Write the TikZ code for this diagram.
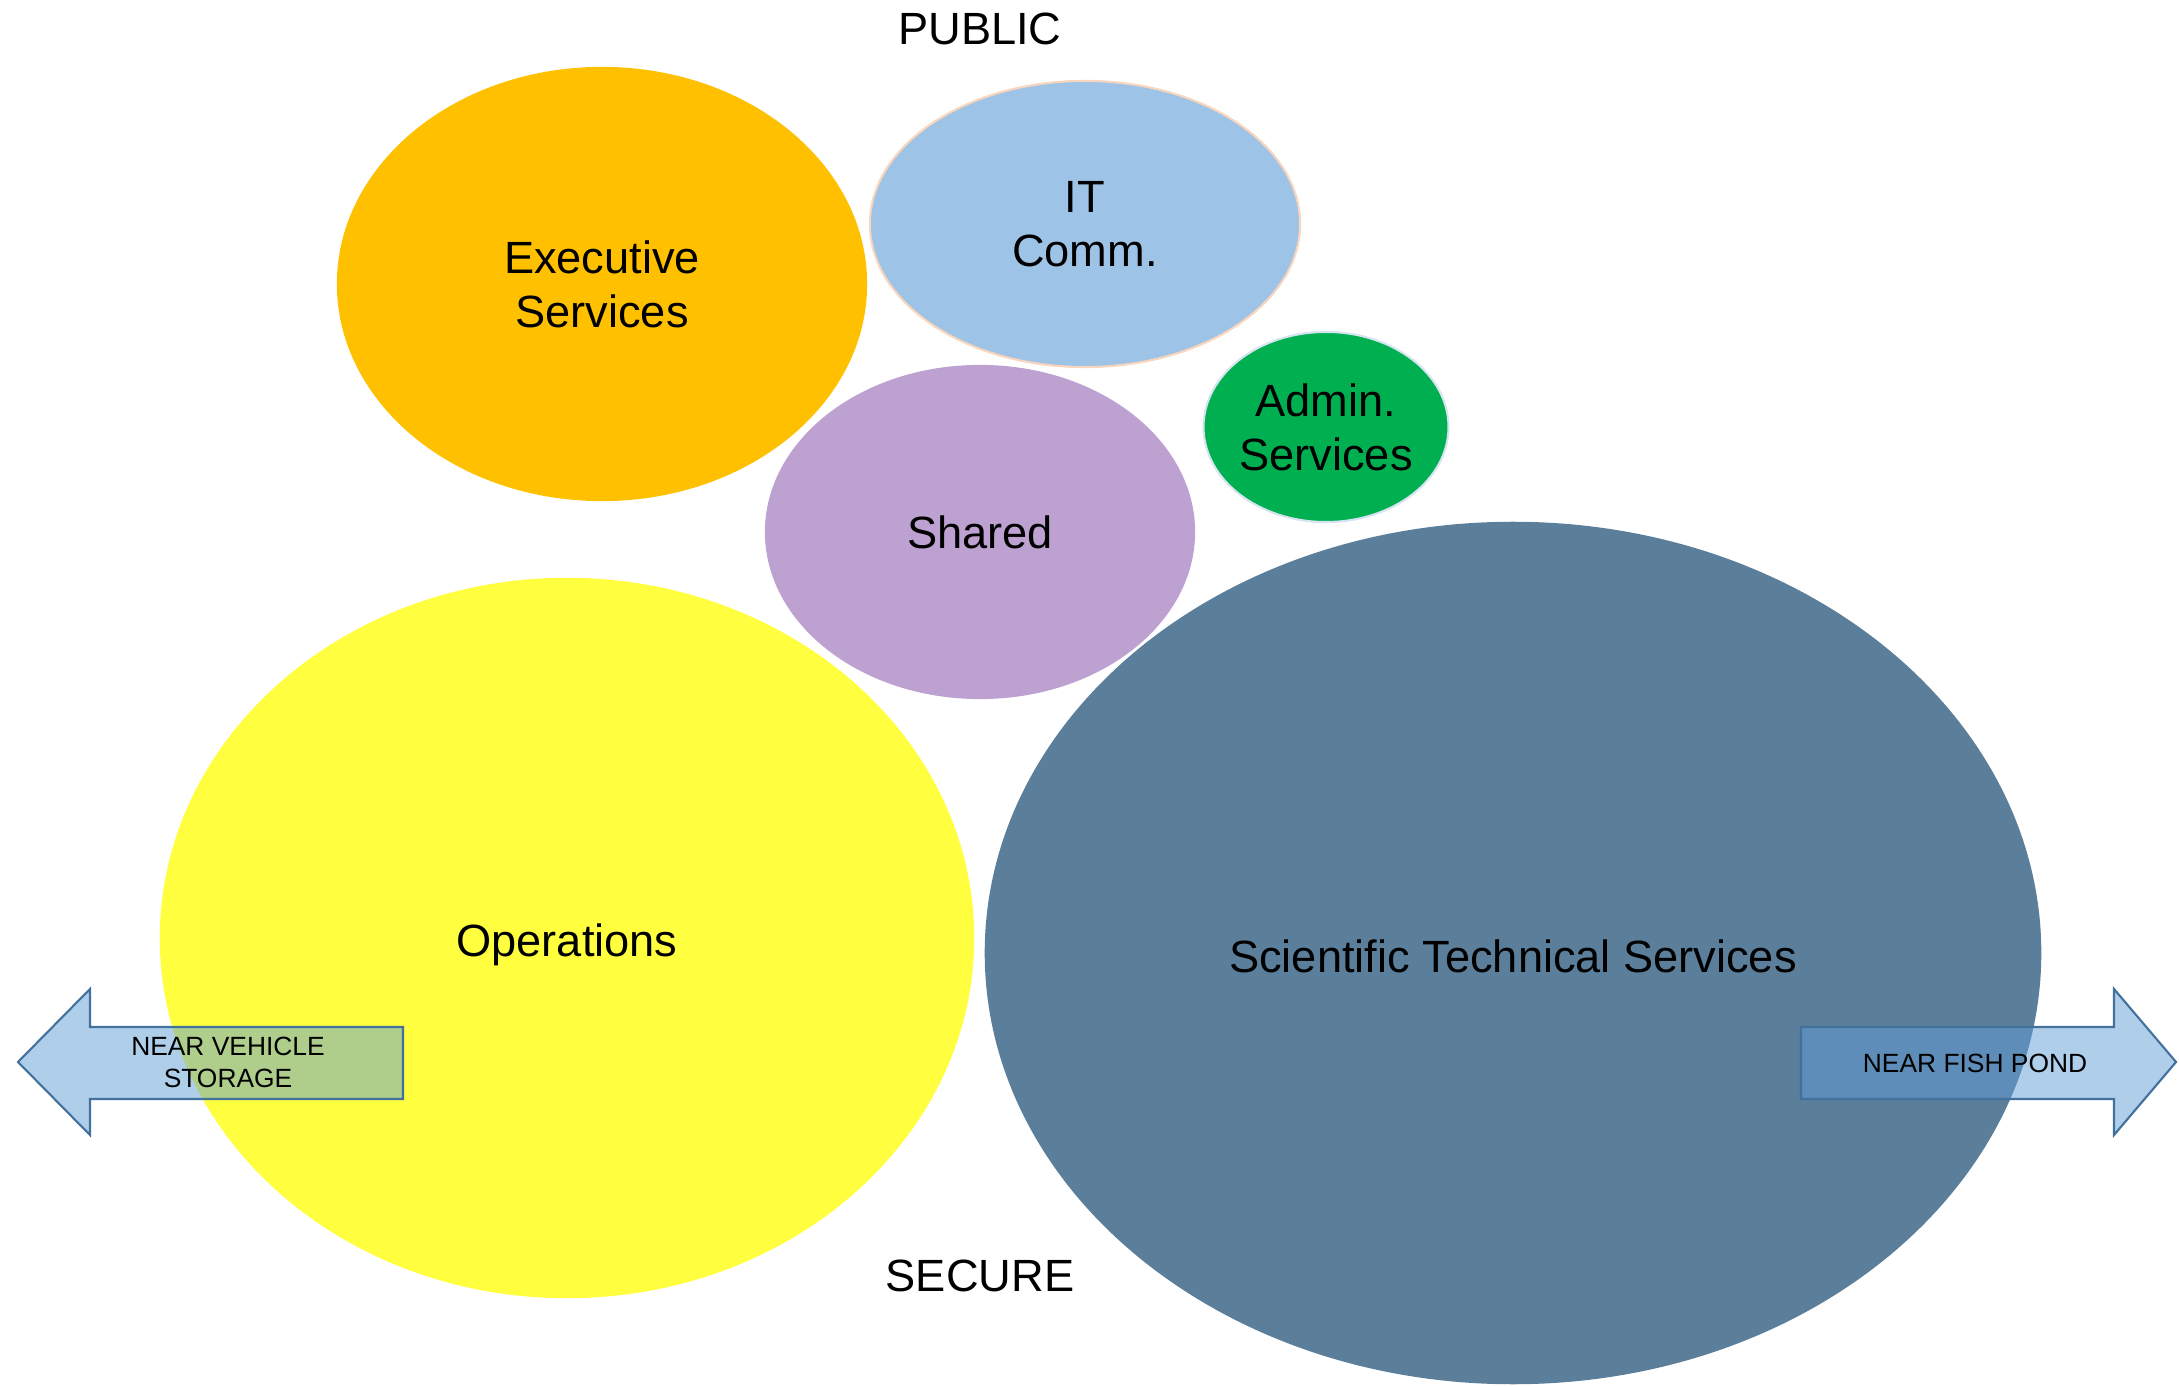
\documentclass[tikz,border=0pt]{standalone}
\usepackage{fontspec}
\setmainfont{Liberation Sans}
\usetikzlibrary{shapes.geometric}

\definecolor{execorange}{RGB}{255,192,0}
\definecolor{itblue}{RGB}{157,195,230}
\definecolor{itedge}{RGB}{248,213,190}
\definecolor{admingreen}{RGB}{0,176,80}
\definecolor{adminedge}{RGB}{214,228,242}
\definecolor{sharedpurple}{RGB}{189,161,209}
\definecolor{opsyellow}{RGB}{255,255,64}
\definecolor{stsblue}{RGB}{91,126,155}
\definecolor{arrowfill}{RGB}{96,157,214}
\definecolor{arrowedge}{RGB}{65,113,156}

\begin{document}
\begin{tikzpicture}[x=0.01cm,y=-0.01cm,
	every node/.style={font=\fontsize{12.85}{15.4}\selectfont,align=center},
	zone/.style={ellipse,inner sep=0pt},
	exec/.style={zone,fill=execorange},
	itc/.style={zone,fill=itblue,draw=itedge,line width=0.6pt},
	admin/.style={zone,fill=admingreen,draw=adminedge,line width=0.6pt},
	shared/.style={zone,fill=sharedpurple},
	ops/.style={zone,fill=opsyellow},
	sts/.style={zone,fill=stsblue},
	pointer/.style={fill=arrowfill,fill opacity=0.5,draw=arrowedge,line width=0.6pt},
	tag/.style={font=\fontsize{7.5}{9.1}\selectfont}]

  \useasboundingbox (0,0) rectangle (2179,1386);

  % big zones first, smaller ones on top
  \node [sts, minimum width=10.56cm, minimum height=8.62cm] (sts) at (1513,953) {};
  \node [ops, minimum width=8.14cm, minimum height=7.2cm] (ops) at (567,938) {};
  \node [shared, minimum width=4.3cm, minimum height=3.34cm] (shared) at (980,532) {Shared};
  \node [exec, minimum width=5.3cm, minimum height=4.34cm] (exec) at (602,284) {Executive\\Services};
  \node [itc, minimum width=4.3cm, minimum height=2.86cm] (itcomm) at (1085,224) {IT\\Comm.};
  \node [admin, minimum width=2.4cm, minimum height=1.9cm] (admin) at (1326,427) {Admin.\\Services};

  \node at ([yshift=-0.07cm]ops.center) {Operations};
  \node at ([yshift=-0.03cm]sts.center) {Scientific Technical Services};

  \node (public) at (980,29) {PUBLIC};
  \node (secure) at (980,1276) {SECURE};

  % side arrows
  \draw [pointer] (18,1062) -- (90,989) -- (90,1027) -- (403,1027)
	-- (403,1099) -- (90,1099) -- (90,1135) -- cycle;
  \draw [pointer] (2176,1062) -- (2114,989) -- (2114,1027) -- (1801,1027)
	-- (1801,1099) -- (2114,1099) -- (2114,1135) -- cycle;

  \node [tag] (vehicle) at (228,1062) {NEAR VEHICLE\\STORAGE};
  \node [tag] (fishpond) at (1975,1063) {NEAR FISH POND};

\end{tikzpicture}
\end{document}
